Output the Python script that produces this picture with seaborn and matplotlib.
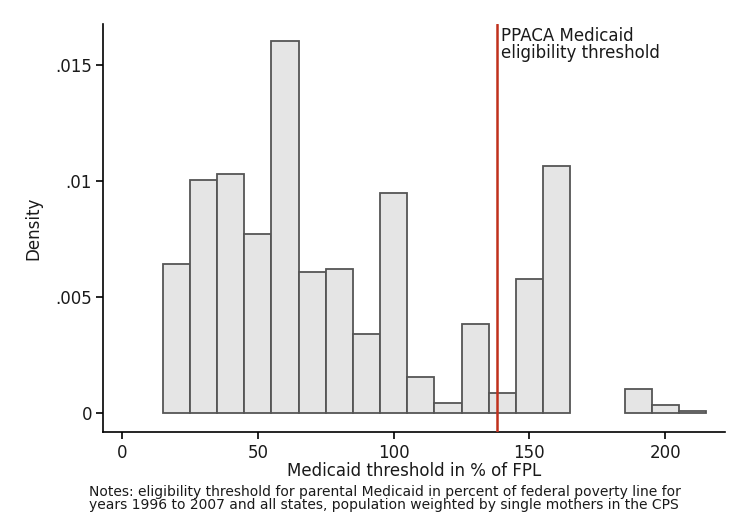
import matplotlib
matplotlib.use('Agg')
import matplotlib.pyplot as plt
import numpy as np
import seaborn as sns

# histogram bins (width 10, % of FPL) and their density heights
bin_edges = [15, 25, 35, 45, 55, 65, 75, 85, 95, 105, 115, 125, 135, 145, 155, 165, 175, 185, 195, 205, 215]
density = [0.00643, 0.01006, 0.0103, 0.00771, 0.01602, 0.0061, 0.0062, 0.0034, 0.0095, 0.00158,
           0.00046, 0.00386, 0.00086, 0.00579, 0.01064, 0.0, 0.0, 0.00104, 0.00037, 0.00008]
ppaca_threshold = 138

x_ticks = [0, 50, 100, 150, 200]
y_ticks = [0, 0.005, 0.01, 0.015]
y_ticklabels = ['0', '.005', '.01', '.015']

note = ('Notes: eligibility threshold for parental Medicaid in percent of federal poverty line for\n'
        'years 1996 to 2007 and all states, population weighted by single mothers in the CPS')

sns.set_style('white')
plt.rcParams['font.family'] = ['DejaVu Sans']

fig = plt.figure(figsize=(7.35, 5.23), dpi=100)
ax = fig.add_axes([103 / 735, 1 - 432 / 523, (725 - 103) / 735, (432 - 24) / 523])

mids = [(a + b) / 2 for a, b in zip(bin_edges[:-1], bin_edges[1:])]
sns.histplot(x=mids, weights=density, bins=bin_edges, stat='count', ax=ax,
             color='#e5e5e5', edgecolor='#555555', linewidth=1.3, alpha=1)
# Stata does not draw empty bins
for p in ax.patches:
    if p.get_height() == 0:
        p.set_visible(False)

ax.axvline(ppaca_threshold, color='#c0301c', linewidth=1.8, zorder=3)
ax.text(139.6, 0.01666, 'PPACA Medicaid\neligibility threshold', ha='left', va='top',
        fontsize=12, linespacing=0.95, color='#1a1a1a')

ax.set_xlim(-7, 222)
ax.set_ylim(-0.000805, 0.01677)
ax.set_xticks(x_ticks)
ax.set_yticks(y_ticks)
ax.set_yticklabels(y_ticklabels)
ax.tick_params(axis='both', which='major', bottom=True, left=True, direction='out',
               length=5, width=1.2, labelsize=12, color='black', labelcolor='#1a1a1a')
ax.tick_params(axis='x', pad=4)
ax.tick_params(axis='y', pad=3)
ax.set_xlabel('Medicaid threshold in % of FPL', fontsize=12, labelpad=0, color='#1a1a1a')
ax.set_ylabel('Density', fontsize=12, labelpad=9, color='#1a1a1a')

for side in ['top', 'right']:
    ax.spines[side].set_visible(False)
for side in ['left', 'bottom']:
    ax.spines[side].set_color('black')
    ax.spines[side].set_linewidth(1.2)

fig.text(89 / 735, 1 - 485 / 523, note, ha='left', va='top', fontsize=10,
         linespacing=0.92, color='#1a1a1a')

fig.savefig('out.png', dpi=100)
